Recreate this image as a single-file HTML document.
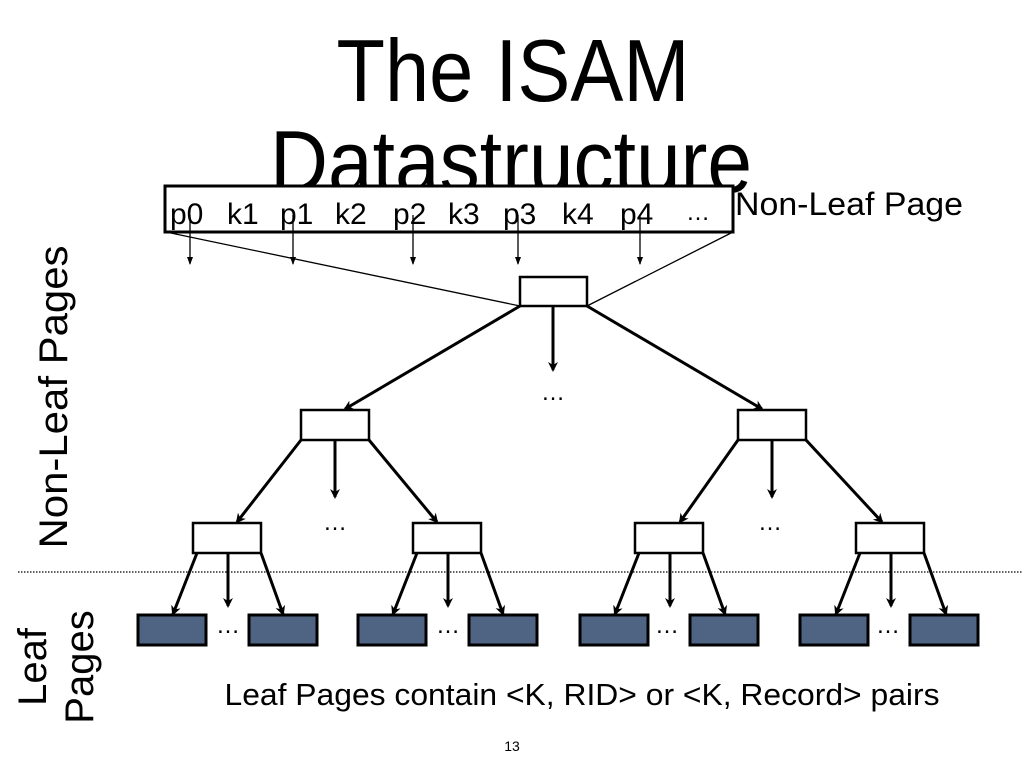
<!DOCTYPE html>
<html><head><meta charset="utf-8"><style>
html,body{margin:0;padding:0;background:#fff;}
svg{display:block;font-family:"Liberation Sans",Arial,sans-serif;}
</style></head><body>
<svg width="1024" height="768" viewBox="0 0 1024 768" xmlns="http://www.w3.org/2000/svg">
<defs>
<marker id="a" markerWidth="10" markerHeight="10" refX="8" refY="5" orient="auto" markerUnits="userSpaceOnUse"><path d="M0,0 L10,5 L0,10 L3,5 z" fill="#000"/></marker>
<marker id="s" markerWidth="8" markerHeight="8" refX="7" refY="4" orient="auto" markerUnits="userSpaceOnUse"><path d="M0,1 L8,4 L0,7 z" fill="#000"/></marker>
</defs>
<rect width="1024" height="768" fill="#fff"/>
<text x="513" y="101" font-size="88" text-anchor="middle" textLength="353" lengthAdjust="spacingAndGlyphs">The ISAM</text>
<text x="511" y="192" font-size="88" text-anchor="middle" textLength="482" lengthAdjust="spacingAndGlyphs">Datastructure</text>
<rect x="165" y="186" width="568" height="46" fill="#fff" stroke="#000" stroke-width="3"/>
<g font-size="30">
<text x="170" y="224">p0</text><text x="227" y="224">k1</text><text x="280" y="224">p1</text><text x="335" y="224">k2</text><text x="393" y="224">p2</text><text x="448" y="224">k3</text><text x="503" y="224">p3</text><text x="562" y="224">k4</text><text x="620" y="224">p4</text><text x="686" y="220" font-size="24">…</text>
</g>
<text x="735" y="215" font-size="32" textLength="228" lengthAdjust="spacingAndGlyphs">Non-Leaf Page</text>
<g stroke="#000" stroke-width="1.3">
<line x1="190" y1="215" x2="190" y2="264" marker-end="url(#s)"/>
<line x1="293" y1="215" x2="293" y2="264" marker-end="url(#s)"/>
<line x1="413" y1="215" x2="413" y2="264" marker-end="url(#s)"/>
<line x1="518" y1="215" x2="518" y2="264" marker-end="url(#s)"/>
<line x1="640" y1="215" x2="640" y2="264" marker-end="url(#s)"/>
<line x1="166" y1="232" x2="520" y2="306"/>
<line x1="733" y1="232" x2="587" y2="306"/>
</g>
<g fill="#fff" stroke="#000" stroke-width="2.5">
<rect x="520" y="277" width="67" height="29"/>
<rect x="301" y="410" width="68" height="30"/>
<rect x="738" y="410" width="68" height="30"/>
<rect x="193" y="523" width="68" height="30"/>
<rect x="413" y="523" width="68" height="30"/>
<rect x="635" y="523" width="68" height="30"/>
<rect x="856" y="523" width="68" height="30"/>
</g>
<g stroke="#000" stroke-width="3">
<line x1="520" y1="306" x2="345" y2="409" marker-end="url(#a)"/>
<line x1="553" y1="306" x2="553" y2="370" marker-end="url(#a)"/>
<line x1="587" y1="306" x2="762" y2="409" marker-end="url(#a)"/>
<line x1="301" y1="440" x2="237" y2="522" marker-end="url(#a)"/>
<line x1="335" y1="440" x2="335" y2="497" marker-end="url(#a)"/>
<line x1="369" y1="440" x2="437" y2="522" marker-end="url(#a)"/>
<line x1="738" y1="440" x2="680" y2="522" marker-end="url(#a)"/>
<line x1="772" y1="440" x2="772" y2="497" marker-end="url(#a)"/>
<line x1="806" y1="440" x2="882" y2="522" marker-end="url(#a)"/>
</g>
<g stroke="#000" stroke-width="3">
<line x1="197" y1="553" x2="173" y2="614" marker-end="url(#a)"/><line x1="228" y1="553" x2="228" y2="606" marker-end="url(#a)"/><line x1="261" y1="553" x2="283" y2="614" marker-end="url(#a)"/>
<line x1="417" y1="553" x2="393" y2="614" marker-end="url(#a)"/><line x1="448" y1="553" x2="448" y2="606" marker-end="url(#a)"/><line x1="481" y1="553" x2="503" y2="614" marker-end="url(#a)"/>
<line x1="639" y1="553" x2="615" y2="614" marker-end="url(#a)"/><line x1="670" y1="553" x2="670" y2="606" marker-end="url(#a)"/><line x1="703" y1="553" x2="725" y2="614" marker-end="url(#a)"/>
<line x1="860" y1="553" x2="836" y2="614" marker-end="url(#a)"/><line x1="891" y1="553" x2="891" y2="606" marker-end="url(#a)"/><line x1="924" y1="553" x2="946" y2="614" marker-end="url(#a)"/>
</g>
<line x1="18" y1="572" x2="1022" y2="572" stroke="#000" stroke-width="1.3" stroke-dasharray="1.5,1.5"/>
<g fill="#4f6383" stroke="#000" stroke-width="3">
<rect x="138" y="615" width="68" height="30"/><rect x="249" y="615" width="68" height="30"/>
<rect x="358" y="615" width="68" height="30"/><rect x="469" y="615" width="68" height="30"/>
<rect x="580" y="615" width="68" height="30"/><rect x="690" y="615" width="68" height="30"/>
<rect x="800" y="615" width="68" height="30"/><rect x="910" y="615" width="68" height="30"/>
</g>
<g font-size="24" text-anchor="middle">
<text x="553" y="400">…</text><text x="335" y="530">…</text><text x="770" y="530">…</text>
<text x="228" y="633">…</text><text x="448" y="633">…</text><text x="667" y="633">…</text><text x="888" y="633">…</text>
</g>
<text transform="translate(67,397) rotate(-90)" font-size="40" text-anchor="middle" textLength="303" lengthAdjust="spacingAndGlyphs">Non-Leaf Pages</text>
<text transform="translate(46,667) rotate(-90)" font-size="40" text-anchor="middle">Leaf</text>
<text transform="translate(93,667) rotate(-90)" font-size="40" text-anchor="middle">Pages</text>
<text x="582" y="705" font-size="31" text-anchor="middle" textLength="715" lengthAdjust="spacingAndGlyphs">Leaf Pages contain &lt;K, RID&gt; or &lt;K, Record&gt; pairs</text>
<text x="512" y="751" font-size="14" text-anchor="middle">13</text>
</svg>
</body></html>
